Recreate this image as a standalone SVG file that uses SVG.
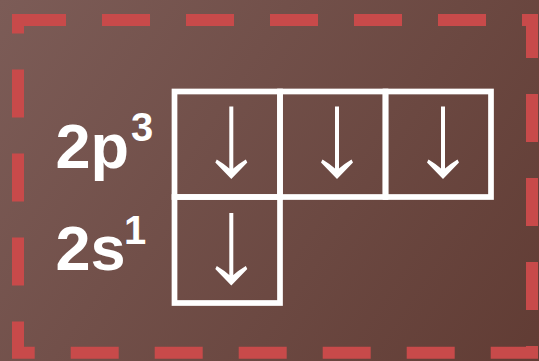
<svg xmlns="http://www.w3.org/2000/svg" width="539" height="361" viewBox="0 0 539 361">
<defs>
<linearGradient id="bg" x1="0" y1="0" x2="539" y2="361" gradientUnits="userSpaceOnUse">
<stop offset="0" stop-color="#7c5c57"/>
<stop offset="1" stop-color="#613c34"/>
</linearGradient>
<style>
.border{fill:none;stroke:#c84a4a;stroke-width:12;stroke-dasharray:48 36}
.box{fill:none;stroke:#ffffff;stroke-width:5.7}
.lbl{fill:#ffffff;font-family:"Liberation Sans",Arial,sans-serif;font-weight:bold}
.big{font-size:63px}
.sup{font-size:40px}
.arr{fill:#ffffff}
</style>
<g id="arrow">
<rect x="-2" y="0" width="4" height="64"/>
<path d="M-16,56 L0,72.5 L16,56 L14.5,53 Q7,57.5 2,62 L-2,62 Q-7,57.5 -14.5,53 Z"/>
</g>
</defs>
<rect width="539" height="361" fill="url(#bg)"/>
<rect class="border" x="18" y="20" width="514" height="332.7"/>
<g id="label-2p3"><text class="lbl big" x="55.4" y="168.3">2p</text><text class="lbl sup" x="131" y="141">3</text></g>
<g id="label-2s1"><text class="lbl big" x="55.4" y="270">2s</text><text class="lbl sup" x="124" y="244.3">1</text></g>
<g id="box-2p-1"><rect class="box" x="174.5" y="91.5" width="105.5" height="105.5"/><use href="#arrow" class="arr" x="231.3" y="106.5"/></g>
<g id="box-2p-2"><rect class="box" x="280" y="91.5" width="105.5" height="105.5"/><use href="#arrow" class="arr" x="337" y="106.5"/></g>
<g id="box-2p-3"><rect class="box" x="385.5" y="91.5" width="105.5" height="105.5"/><use href="#arrow" class="arr" x="443" y="106.5"/></g>
<g id="box-2s"><rect class="box" x="174.5" y="197" width="105.5" height="106"/><use href="#arrow" class="arr" x="231.3" y="213"/></g>
<g id="connectors"></g>
</svg>
